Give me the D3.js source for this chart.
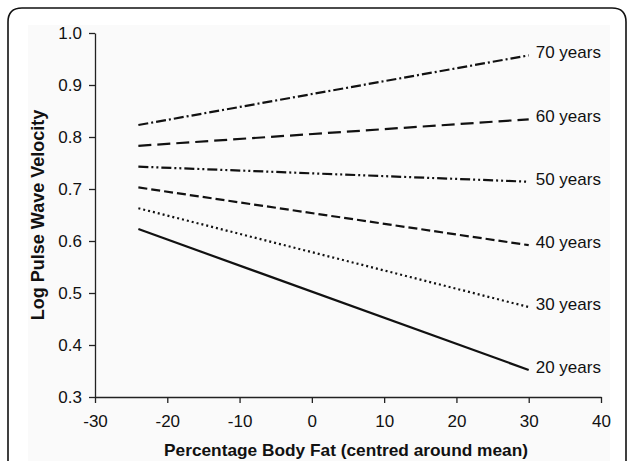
<!DOCTYPE html>
<html>
<head>
<meta charset="utf-8">
<script src="https://cdn.jsdelivr.net/npm/d3@7"></script>
<style>
  body { margin: 0; background: #fff; }
  svg { display: block; font-family: "Liberation Sans", Arial, sans-serif; }
</style>
</head>
<body>
<svg id="chart" width="627" height="461"></svg>
<script>
// body fat range of the fitted lines
const fatRange = [-24, 30];
const ageLabels = ["20 years", "30 years", "40 years", "50 years", "60 years", "70 years"];
const startValues = [0.623, 0.663, 0.703, 0.743, 0.783, 0.823];
const endValues = [0.352, 0.473, 0.592, 0.714, 0.834, 0.957];
const xTicks = [-30, -20, -10, 0, 10, 20, 30, 40];
const yTicks = [0.3, 0.4, 0.5, 0.6, 0.7, 0.8, 0.9, 1.0];

// dash styles per age line
const dashes = ["none", "2,3", "9,4", "10,3,2,3,2,3", "13,6", "10,3,2,3"];

const svg = d3.select("#chart");

// rounded frame, cut at the bottom
svg.append("path")
  .attr("d", "M8,470 L8,22 Q8,8 22,8 L612,8 Q626,8 626,22 L626,470")
  .attr("fill", "none")
  .attr("stroke", "#111")
  .attr("stroke-width", 1.6);

svg.append("rect")
  .attr("x", 28).attr("y", 25)
  .attr("width", 582).attr("height", 440)
  .attr("fill", "#fafafa");

const margin = {top: 33, left: 95},
  width = 601 - 95,
  height = 397 - 33;

const x = d3.scaleLinear().domain([-30, 40]).range([0, width]);
const y = d3.scaleLinear().domain([0.3, 1.0]).range([height, 0]);

const g = svg.append("g")
  .attr("transform", "translate(" + margin.left + "," + margin.top + ")");

// X axis
const xAxis = g.append("g")
  .attr("transform", "translate(0," + height + ")")
  .call(d3.axisBottom(x).tickValues(xTicks).tickSize(6).tickSizeOuter(0)
    .tickFormat(d => String(d)));
xAxis.selectAll("text")
  .attr("font-size", 17)
  .attr("font-family", "Liberation Sans, Arial, sans-serif")
  .attr("fill", "#111")
  .attr("y", 24)
  .attr("dy", "0.35em");

// Y axis
const yAxis = g.append("g")
  .call(d3.axisLeft(y).tickValues(yTicks).tickSize(6).tickSizeOuter(0)
    .tickFormat(d3.format(".1f")));
yAxis.selectAll("text")
  .attr("font-size", 17)
  .attr("font-family", "Liberation Sans, Arial, sans-serif")
  .attr("fill", "#111")
  .attr("x", -13);

[xAxis, yAxis].forEach(a => {
  a.selectAll("path, line").attr("stroke", "#222").attr("stroke-width", 1.3);
});

// age lines
const line = d3.line()
  .x(d => x(d[0]))
  .y(d => y(d[1]));

ageLabels.forEach((label, i) => {
  const pts = [[fatRange[0], startValues[i]], [fatRange[1], endValues[i]]];
  g.append("path")
    .datum(pts)
    .attr("d", line)
    .attr("fill", "none")
    .attr("stroke", "#111")
    .attr("stroke-width", 2.2)
    .attr("stroke-dasharray", dashes[i]);

  g.append("text")
    .attr("x", x(fatRange[1]) + 7)
    .attr("y", y(endValues[i]) - 3)
    .attr("dy", "0.35em")
    .attr("font-size", 17)
    .attr("fill", "#111")
    .text(label);
});

// axis titles
g.append("text")
  .attr("x", width / 2 - 2)
  .attr("y", height + 59)
  .attr("text-anchor", "middle")
  .attr("font-size", 17.3)
  .attr("font-weight", "bold")
  .attr("fill", "#111")
  .text("Percentage Body Fat (centred around mean)");

g.append("text")
  .attr("transform", "rotate(-90)")
  .attr("x", -(215 - margin.top))
  .attr("y", -51)
  .attr("text-anchor", "middle")
  .attr("font-size", 18)
  .attr("font-weight", "bold")
  .attr("fill", "#111")
  .text("Log Pulse Wave Velocity");
</script>
</body>
</html>
